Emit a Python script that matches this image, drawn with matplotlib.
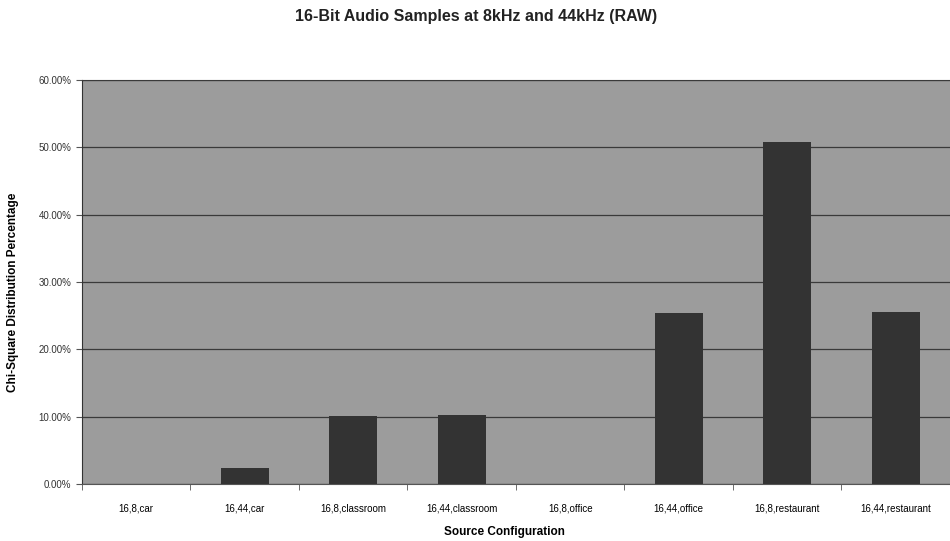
import matplotlib
matplotlib.use("Agg")
import matplotlib.pyplot as plt
from matplotlib.ticker import FixedLocator, PercentFormatter
import numpy as np

plt.rcParams['font.family'] = ['Liberation Sans', 'DejaVu Sans']

categories = ["16,8,car", "16,44,car", "16,8,classroom", "16,44,classroom",
              "16,8,office", "16,44,office", "16,8,restaurant", "16,44,restaurant"]
values = [0.0, 2.3, 10.1, 10.2, 0.0, 25.4, 50.8, 25.5]
yticks = [0, 10, 20, 30, 40, 50, 60]

fig = plt.figure(figsize=(9.5, 5.41), dpi=100)
ax = fig.add_axes([0.0863, 0.1054, 0.9137, 0.7466])
ax.set_facecolor('#9c9c9c')

x = np.arange(len(categories))
ax.bar(x, values, width=0.44, color='#333333', zorder=3)

ax.set_xlim(-0.5, len(categories) - 0.5)
ax.set_ylim(0, 60)
ax.set_yticks(yticks)
ax.yaxis.set_major_formatter(PercentFormatter(decimals=2))
ax.grid(axis='y', color='#3a3a3a', linewidth=0.9, zorder=1)

ax.set_xticks(x)
ax.set_xticklabels(categories, fontsize=7)
ax.xaxis.set_minor_locator(FixedLocator(np.arange(-0.5, len(categories), 1.0)))
ax.tick_params(axis='x', which='major', length=0, pad=14)
ax.tick_params(axis='x', which='minor', length=4, color='#555555', direction='out')
ax.tick_params(axis='y', labelsize=7, length=4, color='#555555', labelcolor='#333333')

ax.spines['right'].set_visible(False)
ax.spines['left'].set_color('#333333')
ax.spines['bottom'].set_color('#555555')
ax.spines['top'].set_color('#3a3a3a')

ax.set_xlabel("Source Configuration", fontsize=8.5, fontweight='bold', labelpad=9)
ax.xaxis.set_label_coords(0.487, -0.105)
ax.set_ylabel("Chi-Square Distribution Percentage", fontsize=8.5, fontweight='bold')
ax.yaxis.set_label_coords(-0.072, 0.475)
fig.suptitle("16-Bit Audio Samples at 8kHz and 44kHz (RAW)", fontsize=11.5, fontweight='bold',
             x=0.501, y=0.983, color='#222222')

fig.savefig("out.png", dpi=100)
